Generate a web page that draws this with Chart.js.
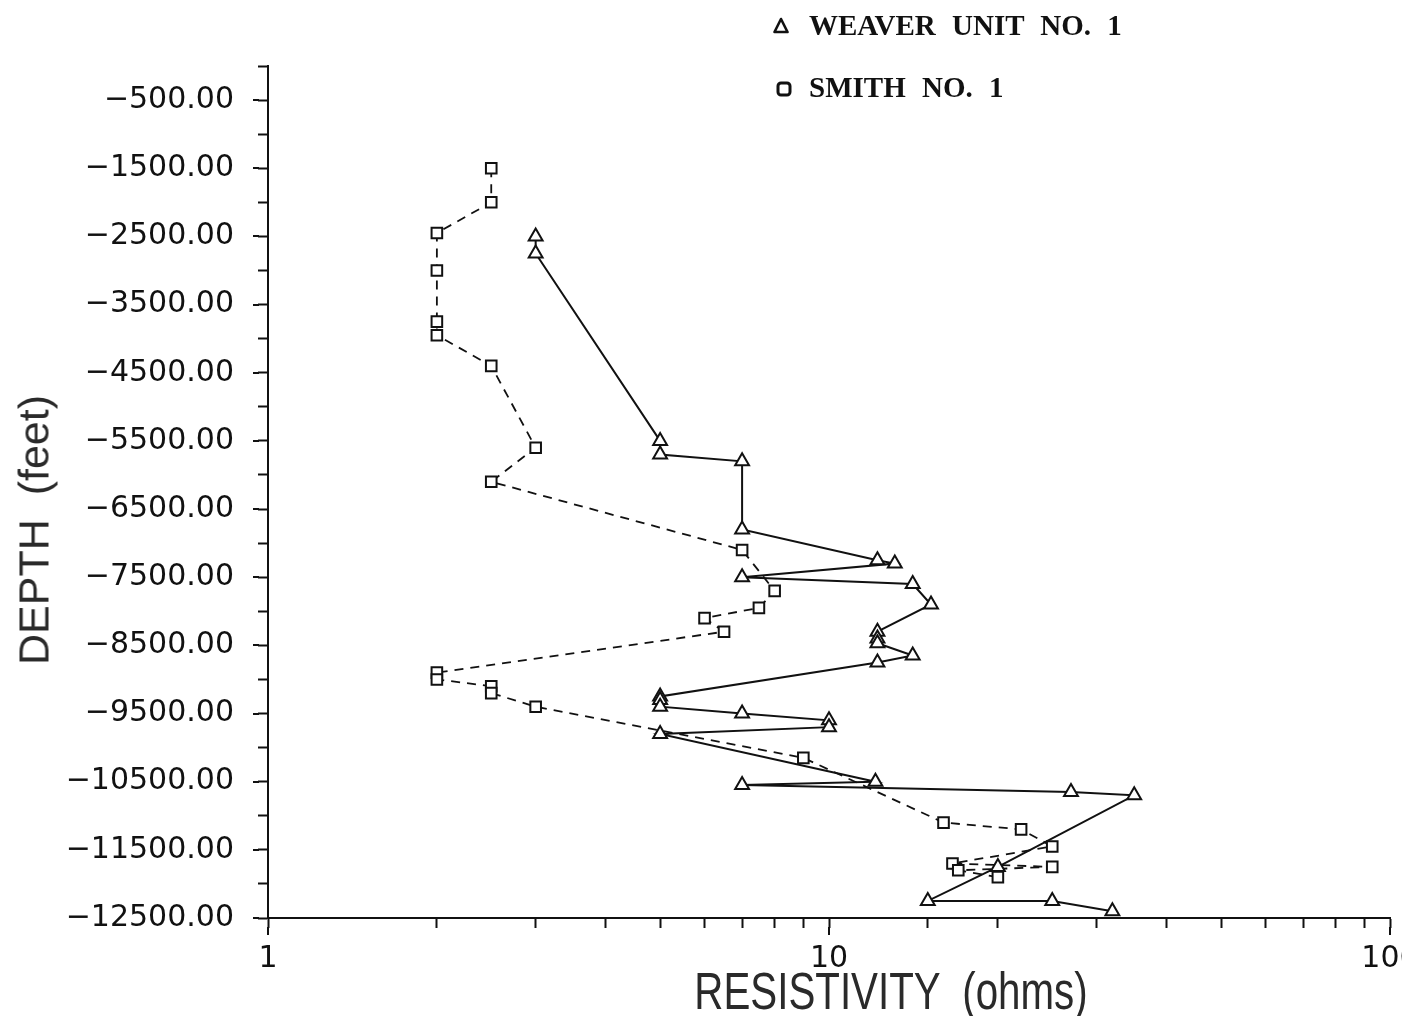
<!DOCTYPE html>
<html>
<head>
<meta charset="utf-8">
<script src="https://cdn.jsdelivr.net/npm/chart.js@4/dist/chart.umd.min.js"></script>
<style>
  html, body { margin: 0; padding: 0; background: #fff; overflow: hidden; }
  #wrap { position: relative; width: 1402px; height: 1016px; overflow: hidden; background: #fff; }
  #chart { position: absolute; left: 0; top: 0; }
  .leg { position: absolute; font-family: 'Liberation Serif', 'Times New Roman', serif; font-weight: bold;
         font-size: 29px; line-height: 29px; color: #111; white-space: nowrap; word-spacing: 9px; }
  .legmark { position: absolute; }
  .ytitle { position: absolute; left: 34px; top: 530px; transform: translate(-50%, -50%) rotate(-90deg);
            font-family: 'Liberation Sans', Arial, sans-serif; font-size: 43px; line-height: 43px; color: #2a2a2a; white-space: pre; }
  .xtitle { position: absolute; left: 891px; top: 991px; transform: translate(-50%, -50%) scaleX(0.79);
            font-family: 'Liberation Sans', Arial, sans-serif; font-size: 51px; line-height: 51px; color: #2a2a2a; white-space: pre; }
</style>
</head>
<body>
<div id="wrap">
  <canvas id="chart" width="1402" height="1016"></canvas>
  <svg class="legmark" style="left:773px;top:17px" width="16" height="17" viewBox="0 0 16 17">
    <polygon points="8,2 14.5,15 1.5,15" fill="none" stroke="#111" stroke-width="2.6" stroke-linejoin="round"/>
  </svg>
  <div class="leg" id="leg1" style="left:809px;top:11px">WEAVER UNIT NO. 1</div>
  <svg class="legmark" style="left:776px;top:81px" width="16" height="16" viewBox="0 0 16 16">
    <rect x="2" y="2" width="12" height="12" rx="3" fill="none" stroke="#111" stroke-width="3"/>
  </svg>
  <div class="leg" id="leg2" style="left:809px;top:73px">SMITH NO. 1</div>
  <div class="ytitle">DEPTH  (feet)</div>
  <div class="xtitle">RESISTIVITY  (ohms)</div>
</div>
<script>
// ---- data ----
const weaverDepth = [-2500, -2750, -5500, -5700, -5800, -6800, -7250, -7300, -7500, -7600, -7900,
                     -8300, -8400, -8470, -8650, -8750, -9250, -9300, -9400, -9500, -9600, -9700, -9800,
                     -10500, -10550, -10650, -10700, -11750, -12250, -12250, -12400];
const weaverRes   = [3, 3, 5, 5, 7, 7, 12.2, 13.1, 7, 14.1, 15.2,
                     12.2, 12.2, 12.2, 14.1, 12.2, 5, 5, 5, 7, 10, 10, 5,
                     12.1, 7, 27, 35, 20, 15, 25, 32];
const smithDepth  = [-1500, -2000, -2450, -3000, -3750, -3950, -4400, -5600, -6100, -7100, -7700, -7950,
                     -8100, -8300, -8900, -9000, -9100, -9200, -9400, -10150, -11100, -11200, -11450,
                     -11700, -11750, -11800, -11900];
const smithRes    = [2.5, 2.5, 2, 2, 2, 2, 2.5, 3, 2.5, 7, 8, 7.5,
                     6, 6.5, 2, 2, 2.5, 2.5, 3, 9, 16, 22, 25,
                     16.6, 25, 17, 20];
const seriesNames = ['WEAVER UNIT NO. 1', 'SMITH NO. 1'];
const xMajorTicks = [1, 10, 100];
const yLabeledTicks = [-500, -1500, -2500, -3500, -4500, -5500, -6500, -7500, -8500, -9500, -10500, -11500, -12500];

const INK = '#111';
const isMajorX = v => xMajorTicks.some(m => Math.abs(m - v) < 1e-9);
const isLabeledY = v => yLabeledTicks.some(m => Math.abs(m - v) < 1e-6);
const fmtY = v => '\u2212' + Math.abs(v).toFixed(2);

const majorTickPlugin = {
  id: 'majorTicks',
  afterDraw(chart) {
    const { ctx, scales: { x, y } } = chart;
    ctx.save();
    ctx.strokeStyle = INK;
    ctx.lineWidth = 2;
    ctx.beginPath();
    yLabeledTicks.forEach(v => {
      const py = Math.round(y.getPixelForValue(v));
      ctx.moveTo(y.right - 9, py); ctx.lineTo(y.right - 15, py);
    });
    xMajorTicks.forEach(v => {
      const px = Math.round(x.getPixelForValue(v));
      ctx.moveTo(px, x.top + 9); ctx.lineTo(px, x.top + 17);
    });
    ctx.stroke();
    ctx.restore();
  }
};

const tickFont = { family: "'DejaVu Sans', sans-serif", size: 30 };

new Chart(document.getElementById('chart').getContext('2d'), {
  type: 'scatter',
  data: {
    datasets: [
      {
        label: seriesNames[0],
        data: weaverRes.map((v, i) => ({ x: v, y: weaverDepth[i] })),
        showLine: true,
        borderColor: INK,
        borderWidth: 2,
        pointStyle: 'triangle',
        pointRadius: 8,
        pointBorderWidth: 2,
        pointBorderColor: INK,
        pointBackgroundColor: '#fff',
        tension: 0
      },
      {
        label: seriesNames[1],
        data: smithRes.map((v, i) => ({ x: v, y: smithDepth[i] })),
        showLine: true,
        borderColor: INK,
        borderWidth: 1.8,
        borderDash: [9, 7],
        pointStyle: 'rect',
        pointRadius: 7.5,
        pointBorderWidth: 2,
        pointBorderColor: INK,
        pointBackgroundColor: '#fff',
        tension: 0
      }
    ]
  },
  options: {
    responsive: false,
    animation: false,
    layout: { padding: { left: 0, top: 66, right: 12, bottom: 0 } },
    plugins: { legend: { display: false }, tooltip: { enabled: false } },
    scales: {
      x: {
        type: 'logarithmic',
        position: 'bottom',
        min: 1,
        max: 100,
        border: { display: true, color: INK, width: 2 },
        grid: { display: true, drawOnChartArea: false, drawTicks: true, tickLength: 10, tickWidth: 2, tickColor: INK },
        ticks: {
          autoSkip: false, maxRotation: 0, minRotation: 0, padding: 13, color: INK, font: tickFont,
          callback: v => isMajorX(v) ? String(Math.round(v)) : ''
        },
        afterFit(s) { s.height = 98; s.paddingLeft = 0; s.paddingRight = 0; }
      },
      y: {
        type: 'linear',
        min: -12500,
        max: 0,
        border: { display: true, color: INK, width: 2 },
        grid: { display: true, drawOnChartArea: false, drawTicks: true, tickLength: 10, tickWidth: 2, tickColor: INK },
        ticks: {
          stepSize: 500, autoSkip: false, padding: 24, color: INK, font: tickFont,
          callback: v => isLabeledY(v) ? fmtY(v) : ''
        },
        afterFit(s) { s.width = 268; s.paddingTop = 0; s.paddingBottom = 0; }
      }
    }
  },
  plugins: [majorTickPlugin]
});
</script>
</body>
</html>
